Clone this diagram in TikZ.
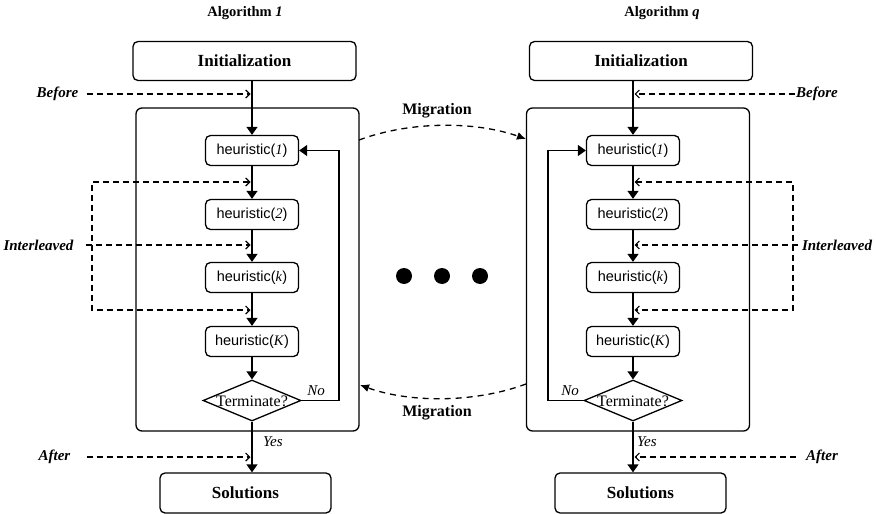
\documentclass[tikz,border=0pt]{standalone}
\usepackage{fontspec}
\setmainfont{Liberation Serif}
\newfontfamily\hfont{Liberation Sans}
\usetikzlibrary{arrows.meta,shapes.geometric,calc}

\tikzset{
 box/.style={draw, rounded corners=5pt, line width=1.3pt, inner sep=0pt},
 bigbox/.style={box, minimum width=223pt, minimum height=39pt, font=\fontsize{17}{20}\selectfont\bfseries},
 solbox/.style={box, minimum width=171pt, minimum height=40pt, font=\fontsize{17}{20}\selectfont\bfseries},
 hbox/.style={box, minimum width=93pt, minimum height=30pt, font=\hfont\fontsize{14.5}{17}\selectfont},
 cont/.style={draw, rounded corners=6pt, line width=1.3pt, minimum width=223pt, minimum height=323pt, inner sep=0pt},
 decide/.style={draw, diamond, line width=1.3pt, minimum width=98pt, minimum height=41pt, inner sep=0pt},
 dtext/.style={font=\fontsize{16}{19}\selectfont, inner sep=0pt},
 flow/.style={line width=1.3pt, -{Triangle[length=8pt,width=11pt]}},
 dsh/.style={line width=1.2pt, dash pattern=on 6pt off 4pt},
 otip/.style={-{Straight Barb[length=4pt,width=8pt]}},
 lab/.style={font=\fontsize{15}{18}\selectfont\bfseries\itshape, inner sep=0pt},
 yn/.style={font=\fontsize{15}{18}\selectfont\itshape, inner sep=0pt},
 mig/.style={line width=1.3pt, dash pattern=on 6pt off 5pt, -{Latex[length=9pt,width=8pt]}},
 ttl/.style={font=\fontsize{14.5}{17}\selectfont\bfseries, inner sep=0pt},
 miglab/.style={font=\fontsize{16}{19}\selectfont\bfseries, inner sep=0pt},
}
\newcommand\heur[1]{heuristic(\textrm{\textit{#1}})}

\begin{document}
\begin{tikzpicture}[x=1pt,y=-1pt]
\useasboundingbox (0,0) rectangle (876,514);

% ---------- Algorithm 1 ----------
\node[ttl] (t1) at (245,13) {Algorithm \textit{1}};
\node[cont] (cont1) at (247.5,269.5) {};
\node[bigbox] (init1) at (244.5,61) {Initialization};
\node[hbox] (h11) at (252,150.5) {\heur{1}};
\node[hbox] (h12) at (252,214.5) {\heur{2}};
\node[hbox] (h1k) at (252,277.5) {\heur{k}};
\node[hbox] (h1K) at (252,341.5) {\heur{K}};
\node[decide] (d1) at (252,400.5) {};
\node[dtext] (d1t) at (252,401.5) {Terminate?};
\node[solbox] (sol1) at (245.5,493) {Solutions};

\draw[flow] (init1.south -| h11.north) -- (h11.north);
\draw[flow] (h11.south) -- (h12.north);
\draw[flow] (h12.south) -- (h1k.north);
\draw[flow] (h1k.south) -- (h1K.north);
\draw[flow] (h1K.south) -- (d1.north);
\draw[flow] (d1.south) -- (d1.south |- sol1.north);
\draw[flow] (d1.east) -- (339,400.5) |- (h11.east);
\node[yn] (no1) at (316,391) {No};
\node[yn, anchor=west] (yes1) at (263,442) {Yes};

\node[lab] (bef1) at (57.5,94) {Before};
\node[lab] (aft1) at (54.5,457) {After};
\node[lab] (il1) at (38.5,245) {Interleaved};
\coordinate (b1) at (250.5,94);
\coordinate (a1) at (250.5,457);
\coordinate (i1) at (250.5,245);
\coordinate (i1t) at (92,182);
\coordinate (i1b) at (92,310);
\coordinate (i1ta) at (250.5,182);
\coordinate (i1ba) at (250.5,310);
\draw[dsh, otip, shorten <=8pt] (bef1.east) -- (b1);
\draw[dsh, otip, shorten <=16pt] (aft1.east) -- (a1);
\draw[dsh, otip, shorten <=12pt] (il1.east) -- (i1);
\draw[dsh, {Straight Barb[length=4pt,width=8pt]}-{Straight Barb[length=4pt,width=8pt]}] (i1ta) -- (i1t) -- (i1b) -- (i1ba);

% ---------- Algorithm q ----------
\node[ttl] (t2) at (662,13) {Algorithm \textit{q}};
\node[cont] (cont2) at (638,269.5) {};
\node[bigbox] (init2) at (641,61) {Initialization};
\node[hbox] (h21) at (633,150.5) {\heur{1}};
\node[hbox] (h22) at (633,214.5) {\heur{2}};
\node[hbox] (h2k) at (633,277.5) {\heur{k}};
\node[hbox] (h2K) at (633,341.5) {\heur{K}};
\node[decide] (d2) at (633,400.5) {};
\node[dtext] (d2t) at (633,401.5) {Terminate?};
\node[solbox] (sol2) at (640.5,493) {Solutions};

\draw[flow] (init2.south -| h21.north) -- (h21.north);
\draw[flow] (h21.south) -- (h22.north);
\draw[flow] (h22.south) -- (h2k.north);
\draw[flow] (h2k.south) -- (h2K.north);
\draw[flow] (h2K.south) -- (d2.north);
\draw[flow] (d2.south) -- (d2.south |- sol2.north);
\draw[flow] (d2.west) -- (548,400.5) |- (h21.west);
\node[yn] (no2) at (570,391) {No};
\node[yn, anchor=west] (yes2) at (637,442) {Yes};

\node[lab] (bef2) at (817,94) {Before};
\node[lab] (aft2) at (822,457) {After};
\node[lab] (il2) at (837,245) {Interleaved};
\coordinate (b2) at (634.5,94);
\coordinate (a2) at (634.5,457);
\coordinate (i2) at (634.5,245);
\coordinate (i2t) at (793,182);
\coordinate (i2b) at (793,310);
\coordinate (i2ta) at (634.5,182);
\coordinate (i2ba) at (634.5,310);
\draw[dsh, otip, shorten <=1pt] (bef2.west) -- (b2);
\draw[dsh, otip, shorten <=10pt] (aft2.west) -- (a2);
\draw[dsh, otip, shorten <=4pt] (il2.west) -- (i2);
\draw[dsh, {Straight Barb[length=4pt,width=8pt]}-{Straight Barb[length=4pt,width=8pt]}] (i2ta) -- (i2t) -- (i2b) -- (i2ba);

% ---------- Migration ----------
\coordinate (m1a) at (359,140);
\coordinate (m1b) at (526,139);
\coordinate (m2a) at (526,384);
\coordinate (m2b) at (360,385);
\draw[mig] (m1a) .. controls (410,121) and (475,121) .. (m1b);
\draw[mig] (m2a) .. controls (475,403) and (410,403) .. (m2b);
\node[miglab] (ml1) at (437,111) {Migration};
\node[miglab] (ml2) at (437,413) {Migration};

% ---------- dots ----------
\fill (404,276) circle (8pt) coordinate (dA);
\fill (442,276) circle (8pt) coordinate (dB);
\fill (480,276) circle (8pt) coordinate (dC);
\end{tikzpicture}
\end{document}
